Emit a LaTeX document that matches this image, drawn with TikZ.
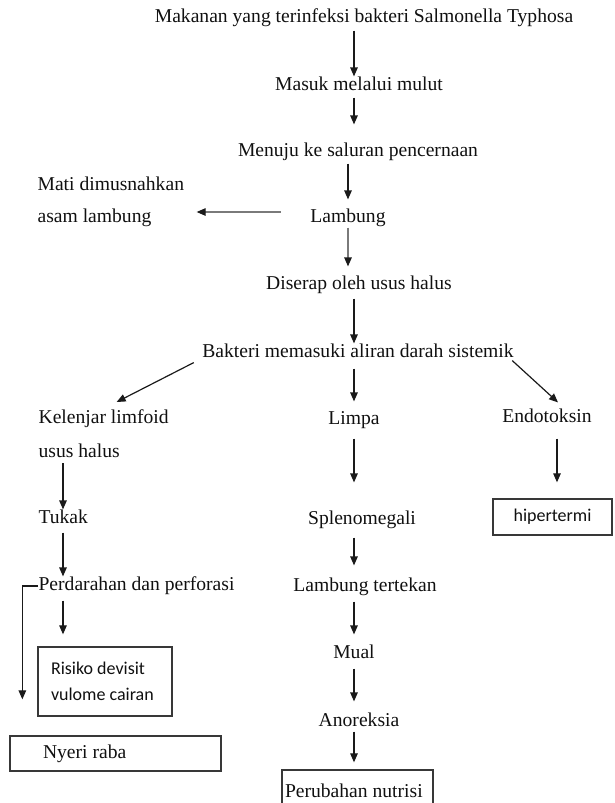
\documentclass[tikz,border=0pt]{standalone}
\usepackage{fontspec}
\setmainfont{Liberation Serif}
\newfontfamily\kotaksans{Carlito}
\usetikzlibrary{arrows.meta,calc}
\definecolor{ptTeks}{HTML}{101010}
\definecolor{ptGaris}{HTML}{1A1A1A}
\definecolor{ptAbu}{HTML}{7A7A7A}
\definecolor{ptBingkai}{HTML}{383838}
\tikzset{
  pt/.style={line width=1.2pt, >={Triangle[length=9pt, width=7.5pt]}, font=\fontsize{19.6pt}{23pt}\selectfont, text=ptTeks},
  lbl/.style={inner sep=0pt, text height=13.5pt, text depth=4.5pt},
  dua/.style={inner sep=0pt, align=flush left, anchor=north west},
  kotak/.style={draw=ptBingkai, line width=1.3pt, inner ysep=0pt},
  sans/.style={font=\kotaksans\fontsize{18pt}{26pt}\selectfont},
  panah/.style={->, draw=ptGaris},
  samar/.style={-{Triangle[length=9pt, width=7.5pt, color=ptGaris]}, draw=ptAbu},
}

\begin{document}
\begin{tikzpicture}[pt, x=1pt, y=-1pt]
\useasboundingbox (0,0) rectangle (614,803);
\clip (0,0) rectangle (614,803);
\coordinate (kiri)   at (63,0);
\coordinate (tengah) at (354,0);
\coordinate (kanan)  at (557,0);
% jalur utama
\node[lbl] (makanan) at (364,18)  {Makanan yang terinfeksi bakteri Salmonella Typhosa};
\node[lbl] (mulut)   at (359,86)  {Masuk melalui mulut};
\node[lbl] (menuju)  at (358,152) {Menuju ke saluran pencernaan};
\node[lbl] (lambung) at (348,218) {Lambung};
\node[lbl] (diserap) at (359,285) {Diserap oleh usus halus};
\node[lbl] (bakteri) at (358,353) {Bakteri memasuki aliran darah sistemik};
\node[dua, font=\fontsize{19.6pt}{32pt}\selectfont] (mati) at (37,176) {Mati dimusnahkan\\asam lambung};
% cabang kiri
\node[dua, font=\fontsize{19.6pt}{34pt}\selectfont] (kelenjar) at (38,409) {Kelenjar limfoid\\usus halus};
\node[lbl, anchor=west] (tukak)      at (38,519) {Tukak};
\node[lbl, anchor=west] (perdarahan) at (38,586) {Perdarahan dan perforasi};
\node[kotak, sans, align=flush left, text width=108pt, inner xsep=13pt, minimum height=69pt] (risiko) at (105,681.5) {Risiko devisit\\vulome cairan};
\node[kotak, align=flush left, text width=145pt, inner xsep=33pt, minimum height=35pt] (nyeri) at (115.5,753.5) {Nyeri raba};
% cabang tengah
\node[lbl] (limpa)        at (354,420) {Limpa};
\node[lbl] (splenomegali) at (362,520) {Splenomegali};
\node[lbl] (tertekan)     at (365,587) {Lambung tertekan};
\node[lbl] (mual)         at (354,654) {Mual};
\node[lbl] (anoreksia)    at (359,722) {Anoreksia};
\node[kotak, align=flush left, text width=145pt, inner xsep=3pt, minimum height=42pt] (nutrisi) at (357.5,791) {Perubahan nutrisi};
% cabang kanan
\node[lbl] (endotoksin) at (547,418) {Endotoksin};
\node[kotak, sans, minimum width=119pt, minimum height=36pt] (hipertermi) at (552.5,517) {hipertermi};

\draw[panah, shorten <=3pt] (makanan.south -| tengah) -- (mulut.north -| tengah);
\draw[panah, shorten <=2pt, shorten >=18pt] (mulut.south -| tengah) -- (menuju.north -| tengah);
\draw[panah, shorten <=2pt, shorten >=9pt] (menuju.south -| lambung) -- (lambung.north);
\draw[samar, shorten <=29pt, shorten >=12pt] ([yshift=6pt]lambung.west) -- ([yshift=6pt]lambung.west -| mati.east);
\draw[samar, shorten >=9pt] (lambung.south) -- (diserap.north -| lambung);
\draw[panah, shorten <=4pt] (diserap.south -| tengah) -- (bakteri.north -| tengah);
\draw[panah] ([xshift=-8pt]bakteri.south west) -- ([xshift=13pt,yshift=7pt]kelenjar.north);
\draw[panah, shorten <=6pt, shorten >=9pt] (bakteri.south -| tengah) -- (limpa.north -| tengah);
\draw[panah] ([xshift=-2pt,yshift=2pt]bakteri.south east) -- ([xshift=11pt,yshift=6pt]endotoksin.north);
% kiri
\draw[panah, shorten <=5pt] (kelenjar.south -| kiri) -- (tukak.north -| kiri);
\draw[panah, shorten <=4pt] (tukak.south -| kiri) -- (perdarahan.north -| kiri);
\draw[panah, shorten <=5pt, shorten >=12pt] (perdarahan.south -| kiri) -- (risiko.north -| kiri);
\draw[panah, shorten >=36pt] (perdarahan.west) -| ([xshift=13pt]nyeri.north west);
% tengah
\draw[panah, shorten <=9pt, shorten >=28pt] (limpa.south -| tengah) -- (splenomegali.north -| tengah);
\draw[panah, shorten <=8pt, shorten >=12pt] (splenomegali.south -| tengah) -- (tertekan.north -| tengah);
\draw[panah, shorten <=5pt, shorten >=10pt] (tertekan.south -| tengah) -- (mual.north -| tengah);
\draw[panah, shorten <=5pt, shorten >=11pt] (mual.south -| tengah) -- (anoreksia.north -| tengah);
\draw[panah, shorten >=7pt] (anoreksia.south -| tengah) -- (nutrisi.north -| tengah);
% kanan
\draw[panah, shorten <=11pt, shorten >=16pt] (endotoksin.south -| kanan) -- (hipertermi.north -| kanan);
\end{tikzpicture}
\end{document}
